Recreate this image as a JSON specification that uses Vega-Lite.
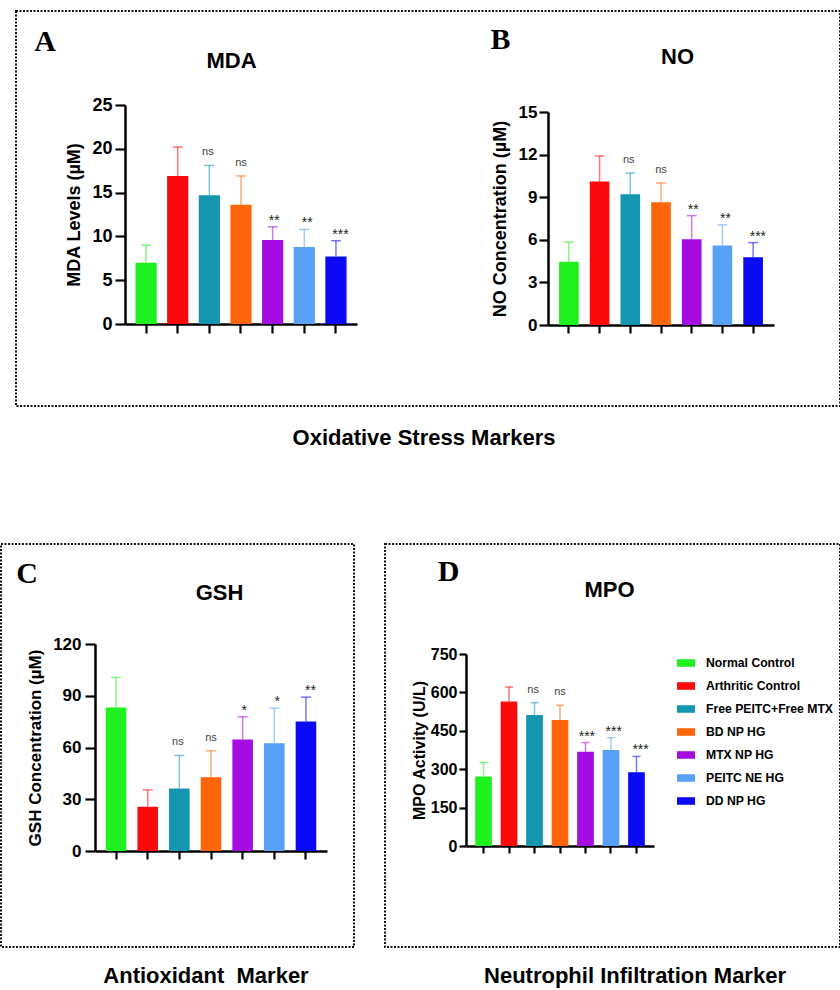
{
  "$schema": "https://vega.github.io/schema/vega-lite/v6.json",
  "background": "white",
  "padding": {"left": 0, "top": 10, "right": 0, "bottom": 0},
  "data": {"values": [
    {"panel": "MDA", "group": "Normal Control", "mean": 7.0, "upper": 9.0, "sig": ""},
    {"panel": "MDA", "group": "Arthritic Control", "mean": 16.9, "upper": 20.2, "sig": ""},
    {"panel": "MDA", "group": "Free PEITC+Free MTX", "mean": 14.7, "upper": 18.1, "sig": "ns"},
    {"panel": "MDA", "group": "BD NP HG", "mean": 13.6, "upper": 16.9, "sig": "ns"},
    {"panel": "MDA", "group": "MTX NP HG", "mean": 9.6, "upper": 11.1, "sig": "**"},
    {"panel": "MDA", "group": "PEITC NE HG", "mean": 8.8, "upper": 10.8, "sig": "**"},
    {"panel": "MDA", "group": "DD NP HG", "mean": 7.7, "upper": 9.5, "sig": "***"},
    {"panel": "NO", "group": "Normal Control", "mean": 4.45, "upper": 5.85, "sig": ""},
    {"panel": "NO", "group": "Arthritic Control", "mean": 10.1, "upper": 11.9, "sig": ""},
    {"panel": "NO", "group": "Free PEITC+Free MTX", "mean": 9.2, "upper": 10.7, "sig": "ns"},
    {"panel": "NO", "group": "BD NP HG", "mean": 8.65, "upper": 10.0, "sig": "ns"},
    {"panel": "NO", "group": "MTX NP HG", "mean": 6.03, "upper": 7.7, "sig": "**"},
    {"panel": "NO", "group": "PEITC NE HG", "mean": 5.6, "upper": 7.05, "sig": "**"},
    {"panel": "NO", "group": "DD NP HG", "mean": 4.77, "upper": 5.8, "sig": "***"},
    {"panel": "GSH", "group": "Normal Control", "mean": 83.2, "upper": 100.6, "sig": ""},
    {"panel": "GSH", "group": "Arthritic Control", "mean": 25.7, "upper": 35.4, "sig": ""},
    {"panel": "GSH", "group": "Free PEITC+Free MTX", "mean": 36.2, "upper": 55.4, "sig": "ns"},
    {"panel": "GSH", "group": "BD NP HG", "mean": 42.8, "upper": 58.1, "sig": "ns"},
    {"panel": "GSH", "group": "MTX NP HG", "mean": 64.6, "upper": 77.8, "sig": "*"},
    {"panel": "GSH", "group": "PEITC NE HG", "mean": 62.5, "upper": 82.8, "sig": "*"},
    {"panel": "GSH", "group": "DD NP HG", "mean": 75.1, "upper": 89.2, "sig": "**"},
    {"panel": "MPO", "group": "Normal Control", "mean": 271, "upper": 327, "sig": ""},
    {"panel": "MPO", "group": "Arthritic Control", "mean": 564, "upper": 621, "sig": ""},
    {"panel": "MPO", "group": "Free PEITC+Free MTX", "mean": 512, "upper": 560, "sig": "ns"},
    {"panel": "MPO", "group": "BD NP HG", "mean": 492, "upper": 550, "sig": "ns"},
    {"panel": "MPO", "group": "MTX NP HG", "mean": 368, "upper": 404, "sig": "***"},
    {"panel": "MPO", "group": "PEITC NE HG", "mean": 375, "upper": 423, "sig": "***"},
    {"panel": "MPO", "group": "DD NP HG", "mean": 288, "upper": 350, "sig": "***"}
  ]},
  "config": {
    "font": "Liberation Sans",
    "view": {"stroke": "#111111", "strokeDash": [2, 1.5], "strokeWidth": 2},
    "axis": {"grid": false, "domainColor": "black", "domainWidth": 2.5, "tickColor": "black", "tickWidth": 2.2, "labelColor": "black", "labelFont": "Liberation Sans", "labelFontWeight": "bold", "titleColor": "black", "titleFont": "Liberation Sans", "titleFontWeight": "bold"},
    "title": {"font": "Liberation Sans", "color": "black", "fontWeight": "bold"}
  },
  "spacing": 93,
  "resolve": {"scale": {"color": "independent"}, "legend": {"color": "independent"}},
  "vconcat": [
    {
      "spacing": 13,
      "resolve": {"scale": {"color": "independent"}, "legend": {"color": "independent"}},
      "hconcat": [
        {
          "width": 1, "height": 395,
          "view": {"stroke": null},
          "data": {"values": [{"a": 1}]},
          "mark": {"type": "text"},
          "encoding": {"text": {"value": ""}}
        },
        {
          "width": 824, "height": 395,
          "title": {"text": "Oxidative Stress Markers", "orient": "bottom", "fontSize": 22, "offset": 22, "dx": -4},
          "resolve": {"scale": {"x": "independent", "y": "independent"}, "axis": {"x": "independent", "y": "independent"}},
          "layer": [
            {
              "transform": [{"filter": "datum.panel == 'MDA'"}],
              "mark": {"type": "bar"},
              "encoding": {
                "x": {"field": "group", "type": "nominal", "scale": {"domain": ["Normal Control","Arthritic Control","Free PEITC+Free MTX","BD NP HG","MTX NP HG","PEITC NE HG","DD NP HG"], "range": [109, 341], "paddingInner": 0.33, "paddingOuter": 0.33},
                  "axis": {"orient": "bottom", "offset": -82, "labels": false, "tickSize": 9, "title": "MDA", "titleFontSize": 22, "titleX": 215, "titleY": -257, "titleBaseline": "alphabetic", "titleAlign": "center", "titleAngle": 0}},
                "y": {"field": "mean", "type": "quantitative", "scale": {"domain": [0, 25], "range": [313, 94], "nice": false},
                  "axis": {"orient": "left", "offset": -109, "values": [0, 5, 10, 15, 20, 25], "tickSize": 10, "labelPadding": 3, "labelFontSize": 18, "title": "MDA Levels (µM)", "titleFontSize": 18, "titlePadding": 8}},
                "color": {"field": "group", "type": "nominal", "scale": {"domain": ["Normal Control","Arthritic Control","Free PEITC+Free MTX","BD NP HG","MTX NP HG","PEITC NE HG","DD NP HG"], "range": ["#1ff01f","#fa0a0a","#1496b0","#ff650a","#a50ce2","#57a2f7","#0a0af5"]}, "legend": null}
              }
            },
            {
              "transform": [{"filter": "datum.panel == 'MDA'"}],
              "mark": {"type": "rule", "strokeWidth": 1.5, "opacity": 0.55},
              "encoding": {
                "x": {"field": "group", "type": "nominal", "scale": {"domain": ["Normal Control","Arthritic Control","Free PEITC+Free MTX","BD NP HG","MTX NP HG","PEITC NE HG","DD NP HG"], "range": [109, 341], "paddingInner": 0.33, "paddingOuter": 0.33}, "axis": null},
                "y": {"field": "mean", "type": "quantitative", "scale": {"domain": [0, 25], "range": [313, 94], "nice": false}, "axis": null},
                "y2": {"field": "upper"},
                "color": {"field": "group", "type": "nominal", "legend": null}
              }
            },
            {
              "transform": [{"filter": "datum.panel == 'MDA'"}],
              "mark": {"type": "tick", "orient": "horizontal", "size": 10, "thickness": 1.5, "opacity": 0.55},
              "encoding": {
                "x": {"field": "group", "type": "nominal", "scale": {"domain": ["Normal Control","Arthritic Control","Free PEITC+Free MTX","BD NP HG","MTX NP HG","PEITC NE HG","DD NP HG"], "range": [109, 341], "paddingInner": 0.33, "paddingOuter": 0.33}, "axis": null},
                "y": {"field": "upper", "type": "quantitative", "scale": {"domain": [0, 25], "range": [313, 94], "nice": false}, "axis": null},
                "color": {"field": "group", "type": "nominal", "legend": null}
              }
            },
            {
              "transform": [{"filter": "datum.panel == 'MDA' && datum.sig == 'ns'"}],
              "mark": {"type": "text", "fontSize": 11, "dy": -10, "baseline": "alphabetic", "color": "#444444"},
              "encoding": {
                "x": {"field": "group", "type": "nominal", "scale": {"domain": ["Normal Control","Arthritic Control","Free PEITC+Free MTX","BD NP HG","MTX NP HG","PEITC NE HG","DD NP HG"], "range": [109, 341], "paddingInner": 0.33, "paddingOuter": 0.33},
                  "axis": {"orient": "top", "domain": false, "ticks": false, "labels": false, "title": "A", "titleFont": "Liberation Serif", "titleFontSize": 30, "titleX": 28.5, "titleY": 39, "titleBaseline": "alphabetic", "titleAlign": "center", "titleAngle": 0}},
                "y": {"field": "upper", "type": "quantitative", "scale": {"domain": [0, 25], "range": [313, 94], "nice": false}, "axis": null},
                "text": {"field": "sig"}
              }
            },
            {
              "transform": [{"filter": "datum.panel == 'MDA' && datum.sig != 'ns' && datum.sig != ''"}],
              "mark": {"type": "text", "fontSize": 14, "dy": -2, "baseline": "alphabetic", "color": "#222222"},
              "encoding": {
                "x": {"field": "group", "type": "nominal", "scale": {"domain": ["Normal Control","Arthritic Control","Free PEITC+Free MTX","BD NP HG","MTX NP HG","PEITC NE HG","DD NP HG"], "range": [109, 341], "paddingInner": 0.33, "paddingOuter": 0.33}, "axis": null},
                "y": {"field": "upper", "type": "quantitative", "scale": {"domain": [0, 25], "range": [313, 94], "nice": false}, "axis": null},
                "text": {"field": "sig"}
              }
            },
            {
              "transform": [{"filter": "datum.panel == 'NO'"}],
              "mark": {"type": "bar"},
              "encoding": {
                "x": {"field": "group", "type": "nominal", "scale": {"domain": ["Normal Control","Arthritic Control","Free PEITC+Free MTX","BD NP HG","MTX NP HG","PEITC NE HG","DD NP HG"], "range": [532, 758], "paddingInner": 0.36, "paddingOuter": 0.36},
                  "axis": {"orient": "bottom", "offset": -81, "labels": false, "tickSize": 8, "title": "NO", "titleFontSize": 22, "titleX": 661, "titleY": -262, "titleBaseline": "alphabetic", "titleAlign": "center", "titleAngle": 0}},
                "y": {"field": "mean", "type": "quantitative", "scale": {"domain": [0, 15], "range": [314, 101], "nice": false},
                  "axis": {"orient": "left", "offset": -532, "values": [0, 3, 6, 9, 12, 15], "tickSize": 9, "labelPadding": 2, "labelFontSize": 17, "title": "NO Concentration (µM)", "titleFontSize": 18, "titlePadding": 9}},
                "color": {"field": "group", "type": "nominal", "legend": null}
              }
            },
            {
              "transform": [{"filter": "datum.panel == 'NO'"}],
              "mark": {"type": "rule", "strokeWidth": 1.5, "opacity": 0.55},
              "encoding": {
                "x": {"field": "group", "type": "nominal", "scale": {"domain": ["Normal Control","Arthritic Control","Free PEITC+Free MTX","BD NP HG","MTX NP HG","PEITC NE HG","DD NP HG"], "range": [532, 758], "paddingInner": 0.36, "paddingOuter": 0.36}, "axis": null},
                "y": {"field": "mean", "type": "quantitative", "scale": {"domain": [0, 15], "range": [314, 101], "nice": false}, "axis": null},
                "y2": {"field": "upper"},
                "color": {"field": "group", "type": "nominal", "legend": null}
              }
            },
            {
              "transform": [{"filter": "datum.panel == 'NO'"}],
              "mark": {"type": "tick", "orient": "horizontal", "size": 10, "thickness": 1.5, "opacity": 0.55},
              "encoding": {
                "x": {"field": "group", "type": "nominal", "scale": {"domain": ["Normal Control","Arthritic Control","Free PEITC+Free MTX","BD NP HG","MTX NP HG","PEITC NE HG","DD NP HG"], "range": [532, 758], "paddingInner": 0.36, "paddingOuter": 0.36}, "axis": null},
                "y": {"field": "upper", "type": "quantitative", "scale": {"domain": [0, 15], "range": [314, 101], "nice": false}, "axis": null},
                "color": {"field": "group", "type": "nominal", "legend": null}
              }
            },
            {
              "transform": [{"filter": "datum.panel == 'NO' && datum.sig == 'ns'"}],
              "mark": {"type": "text", "fontSize": 11, "dy": -10, "baseline": "alphabetic", "color": "#444444"},
              "encoding": {
                "x": {"field": "group", "type": "nominal", "scale": {"domain": ["Normal Control","Arthritic Control","Free PEITC+Free MTX","BD NP HG","MTX NP HG","PEITC NE HG","DD NP HG"], "range": [532, 758], "paddingInner": 0.36, "paddingOuter": 0.36},
                  "axis": {"orient": "top", "domain": false, "ticks": false, "labels": false, "title": "B", "titleFont": "Liberation Serif", "titleFontSize": 30, "titleX": 484, "titleY": 37, "titleBaseline": "alphabetic", "titleAlign": "center", "titleAngle": 0}},
                "y": {"field": "upper", "type": "quantitative", "scale": {"domain": [0, 15], "range": [314, 101], "nice": false}, "axis": null},
                "text": {"field": "sig"}
              }
            },
            {
              "transform": [{"filter": "datum.panel == 'NO' && datum.sig != 'ns' && datum.sig != ''"}],
              "mark": {"type": "text", "fontSize": 14, "dy": -2, "baseline": "alphabetic", "color": "#222222"},
              "encoding": {
                "x": {"field": "group", "type": "nominal", "scale": {"domain": ["Normal Control","Arthritic Control","Free PEITC+Free MTX","BD NP HG","MTX NP HG","PEITC NE HG","DD NP HG"], "range": [532, 758], "paddingInner": 0.36, "paddingOuter": 0.36}, "axis": null},
                "y": {"field": "upper", "type": "quantitative", "scale": {"domain": [0, 15], "range": [314, 101], "nice": false}, "axis": null},
                "text": {"field": "sig"}
              }
            }
          ]
        }
      ]
    },
    {
      "spacing": 29,
      "resolve": {"scale": {"color": "independent"}, "legend": {"color": "independent"}},
      "hconcat": [
        {
          "width": 353, "height": 403,
          "title": {"text": "Antioxidant\u00a0 Marker", "orient": "bottom", "fontSize": 22, "offset": 19, "dx": 28.5},
          "resolve": {"scale": {"x": "independent", "y": "independent"}, "axis": {"x": "independent", "y": "independent"}},
          "layer": [
            {
              "transform": [{"filter": "datum.panel == 'GSH'"}],
              "mark": {"type": "bar"},
              "encoding": {
                "x": {"field": "group", "type": "nominal", "scale": {"domain": ["Normal Control","Arthritic Control","Free PEITC+Free MTX","BD NP HG","MTX NP HG","PEITC NE HG","DD NP HG"], "range": [94, 326], "paddingInner": 0.35, "paddingOuter": 0.34},
                  "axis": {"orient": "bottom", "offset": -96, "labels": false, "tickSize": 8, "title": "GSH", "titleFontSize": 22, "titleX": 218, "titleY": -252, "titleBaseline": "alphabetic", "titleAlign": "center", "titleAngle": 0}},
                "y": {"field": "mean", "type": "quantitative", "scale": {"domain": [0, 120], "range": [307, 100], "nice": false},
                  "axis": {"orient": "left", "offset": -94, "values": [0, 30, 60, 90, 120], "tickSize": 10, "labelPadding": 4, "labelFontSize": 17, "title": "GSH Concentration (µM)", "titleFontSize": 17, "titlePadding": 8}},
                "color": {"field": "group", "type": "nominal", "scale": {"domain": ["Normal Control","Arthritic Control","Free PEITC+Free MTX","BD NP HG","MTX NP HG","PEITC NE HG","DD NP HG"], "range": ["#1ff01f","#fa0a0a","#1496b0","#ff650a","#a50ce2","#57a2f7","#0a0af5"]}, "legend": null}
              }
            },
            {
              "transform": [{"filter": "datum.panel == 'GSH'"}],
              "mark": {"type": "rule", "strokeWidth": 1.5, "opacity": 0.55},
              "encoding": {
                "x": {"field": "group", "type": "nominal", "scale": {"domain": ["Normal Control","Arthritic Control","Free PEITC+Free MTX","BD NP HG","MTX NP HG","PEITC NE HG","DD NP HG"], "range": [94, 326], "paddingInner": 0.35, "paddingOuter": 0.34}, "axis": null},
                "y": {"field": "mean", "type": "quantitative", "scale": {"domain": [0, 120], "range": [307, 100], "nice": false}, "axis": null},
                "y2": {"field": "upper"},
                "color": {"field": "group", "type": "nominal", "legend": null}
              }
            },
            {
              "transform": [{"filter": "datum.panel == 'GSH'"}],
              "mark": {"type": "tick", "orient": "horizontal", "size": 10, "thickness": 1.5, "opacity": 0.55},
              "encoding": {
                "x": {"field": "group", "type": "nominal", "scale": {"domain": ["Normal Control","Arthritic Control","Free PEITC+Free MTX","BD NP HG","MTX NP HG","PEITC NE HG","DD NP HG"], "range": [94, 326], "paddingInner": 0.35, "paddingOuter": 0.34}, "axis": null},
                "y": {"field": "upper", "type": "quantitative", "scale": {"domain": [0, 120], "range": [307, 100], "nice": false}, "axis": null},
                "color": {"field": "group", "type": "nominal", "legend": null}
              }
            },
            {
              "transform": [{"filter": "datum.panel == 'GSH' && datum.sig == 'ns'"}],
              "mark": {"type": "text", "fontSize": 11, "dy": -10, "baseline": "alphabetic", "color": "#444444"},
              "encoding": {
                "x": {"field": "group", "type": "nominal", "scale": {"domain": ["Normal Control","Arthritic Control","Free PEITC+Free MTX","BD NP HG","MTX NP HG","PEITC NE HG","DD NP HG"], "range": [94, 326], "paddingInner": 0.35, "paddingOuter": 0.34},
                  "axis": {"orient": "top", "domain": false, "ticks": false, "labels": false, "title": "C", "titleFont": "Liberation Serif", "titleFontSize": 30, "titleX": 25.5, "titleY": 38, "titleBaseline": "alphabetic", "titleAlign": "center", "titleAngle": 0}},
                "y": {"field": "upper", "type": "quantitative", "scale": {"domain": [0, 120], "range": [307, 100], "nice": false}, "axis": null},
                "text": {"field": "sig"}
              }
            },
            {
              "transform": [{"filter": "datum.panel == 'GSH' && datum.sig != 'ns' && datum.sig != ''"}],
              "mark": {"type": "text", "fontSize": 14, "dy": -2, "baseline": "alphabetic", "color": "#222222"},
              "encoding": {
                "x": {"field": "group", "type": "nominal", "scale": {"domain": ["Normal Control","Arthritic Control","Free PEITC+Free MTX","BD NP HG","MTX NP HG","PEITC NE HG","DD NP HG"], "range": [94, 326], "paddingInner": 0.35, "paddingOuter": 0.34}, "axis": null},
                "y": {"field": "upper", "type": "quantitative", "scale": {"domain": [0, 120], "range": [307, 100], "nice": false}, "axis": null},
                "text": {"field": "sig"}
              }
            }
          ]
        },
        {
          "width": 455, "height": 403,
          "title": {"text": "Neutrophil Infiltration Marker", "orient": "bottom", "fontSize": 22, "offset": 19, "dx": 22.5},
          "resolve": {"scale": {"x": "independent", "y": "independent"}, "axis": {"x": "independent", "y": "independent"}},
          "layer": [
            {
              "transform": [{"filter": "datum.panel == 'MPO'"}],
              "mark": {"type": "bar"},
              "encoding": {
                "x": {"field": "group", "type": "nominal", "scale": {"domain": ["Normal Control","Arthritic Control","Free PEITC+Free MTX","BD NP HG","MTX NP HG","PEITC NE HG","DD NP HG"], "range": [81, 269], "paddingInner": 0.345, "paddingOuter": 0.36},
                  "axis": {"orient": "bottom", "offset": -101, "labels": false, "tickSize": 7, "title": "MPO", "titleFontSize": 22, "titleX": 224, "titleY": -250, "titleBaseline": "alphabetic", "titleAlign": "center", "titleAngle": 0}},
                "y": {"field": "mean", "type": "quantitative", "scale": {"domain": [0, 750], "range": [302, 110], "nice": false},
                  "axis": {"orient": "left", "offset": -81, "values": [0, 150, 300, 450, 600, 750], "tickSize": 7, "labelPadding": 2, "labelFontSize": 16, "title": "MPO Activity (U/L)", "titleFontSize": 16, "titlePadding": 3}},
                "color": {"field": "group", "type": "nominal", "scale": {"domain": ["Normal Control","Arthritic Control","Free PEITC+Free MTX","BD NP HG","MTX NP HG","PEITC NE HG","DD NP HG"], "range": ["#1ff01f","#fa0a0a","#1496b0","#ff650a","#a50ce2","#57a2f7","#0a0af5"]},
                  "legend": {"orient": "none", "legendX": 292, "legendY": 110, "title": null, "padding": 0, "symbolType": "M-1,-0.42H1V0.42H-1Z", "symbolSize": 324, "symbolStrokeWidth": 0, "symbolOpacity": 1, "labelFontSize": 12.2, "labelFontWeight": "bold", "labelColor": "black", "labelFont": "Liberation Sans", "labelOffset": 11, "rowPadding": 7, "labelLimit": 200}}
              }
            },
            {
              "transform": [{"filter": "datum.panel == 'MPO'"}],
              "mark": {"type": "rule", "strokeWidth": 1.5, "opacity": 0.55},
              "encoding": {
                "x": {"field": "group", "type": "nominal", "scale": {"domain": ["Normal Control","Arthritic Control","Free PEITC+Free MTX","BD NP HG","MTX NP HG","PEITC NE HG","DD NP HG"], "range": [81, 269], "paddingInner": 0.345, "paddingOuter": 0.36}, "axis": null},
                "y": {"field": "mean", "type": "quantitative", "scale": {"domain": [0, 750], "range": [302, 110], "nice": false}, "axis": null},
                "y2": {"field": "upper"},
                "color": {"field": "group", "type": "nominal", "legend": null}
              }
            },
            {
              "transform": [{"filter": "datum.panel == 'MPO'"}],
              "mark": {"type": "tick", "orient": "horizontal", "size": 8, "thickness": 1.5, "opacity": 0.55},
              "encoding": {
                "x": {"field": "group", "type": "nominal", "scale": {"domain": ["Normal Control","Arthritic Control","Free PEITC+Free MTX","BD NP HG","MTX NP HG","PEITC NE HG","DD NP HG"], "range": [81, 269], "paddingInner": 0.345, "paddingOuter": 0.36}, "axis": null},
                "y": {"field": "upper", "type": "quantitative", "scale": {"domain": [0, 750], "range": [302, 110], "nice": false}, "axis": null},
                "color": {"field": "group", "type": "nominal", "legend": null}
              }
            },
            {
              "transform": [{"filter": "datum.panel == 'MPO' && datum.sig == 'ns'"}],
              "mark": {"type": "text", "fontSize": 11, "dy": -10, "baseline": "alphabetic", "color": "#444444"},
              "encoding": {
                "x": {"field": "group", "type": "nominal", "scale": {"domain": ["Normal Control","Arthritic Control","Free PEITC+Free MTX","BD NP HG","MTX NP HG","PEITC NE HG","DD NP HG"], "range": [81, 269], "paddingInner": 0.345, "paddingOuter": 0.36},
                  "axis": {"orient": "top", "domain": false, "ticks": false, "labels": false, "title": "D", "titleFont": "Liberation Serif", "titleFontSize": 30, "titleX": 63, "titleY": 36, "titleBaseline": "alphabetic", "titleAlign": "center", "titleAngle": 0}},
                "y": {"field": "upper", "type": "quantitative", "scale": {"domain": [0, 750], "range": [302, 110], "nice": false}, "axis": null},
                "text": {"field": "sig"}
              }
            },
            {
              "transform": [{"filter": "datum.panel == 'MPO' && datum.sig != 'ns' && datum.sig != ''"}],
              "mark": {"type": "text", "fontSize": 14, "dy": -2, "baseline": "alphabetic", "color": "#222222"},
              "encoding": {
                "x": {"field": "group", "type": "nominal", "scale": {"domain": ["Normal Control","Arthritic Control","Free PEITC+Free MTX","BD NP HG","MTX NP HG","PEITC NE HG","DD NP HG"], "range": [81, 269], "paddingInner": 0.345, "paddingOuter": 0.36}, "axis": null},
                "y": {"field": "upper", "type": "quantitative", "scale": {"domain": [0, 750], "range": [302, 110], "nice": false}, "axis": null},
                "text": {"field": "sig"}
              }
            }
          ]
        }
      ]
    }
  ]
}
